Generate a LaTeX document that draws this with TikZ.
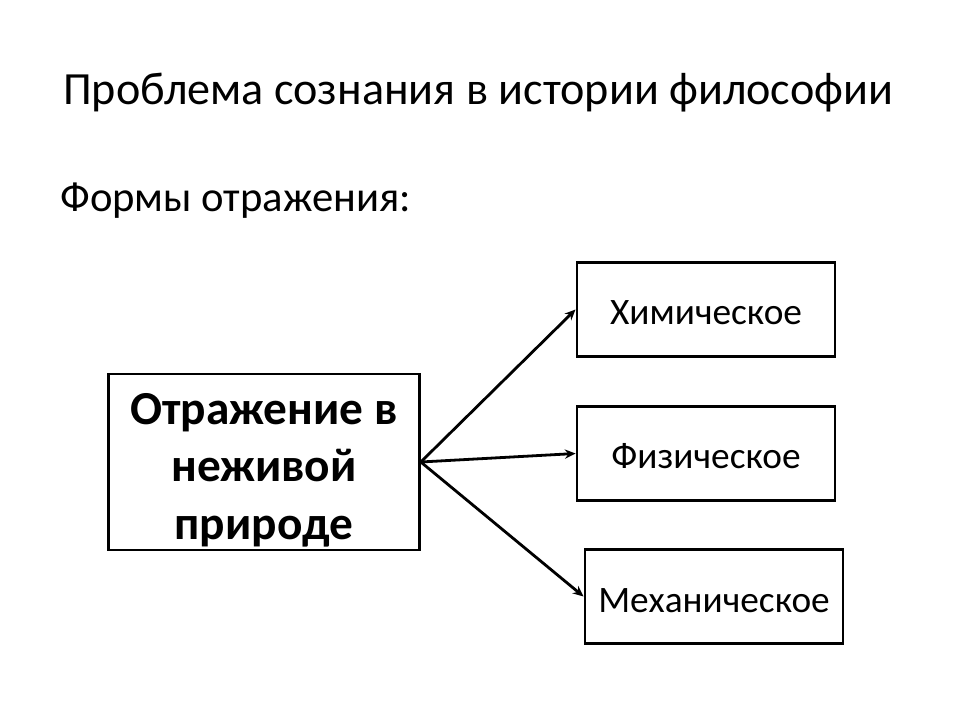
\documentclass[tikz,border=0pt]{standalone}
\usepackage{fontspec}
\setmainfont{Carlito}
\usetikzlibrary{arrows.meta}
\begin{document}
\begin{tikzpicture}[x=0.75pt,y=-0.75pt,
  box/.style={draw=black,line width=2.2pt,inner sep=0pt},
  smallbox/.style={box,minimum width=193.5pt,minimum height=71pt},
  smalltext/.style={inner sep=0pt,anchor=base,font=\fontsize{28}{32}\selectfont},
  conn/.style={line width=2.1pt,-{Stealth[length=8pt,width=7pt]}}]
\useasboundingbox (0,0) rectangle (960,720);
\node[anchor=base west,inner sep=0pt,font=\fontsize{34.6}{40}\selectfont] (title) at (63,105) {Проблема сознания в истории философии};
\node[anchor=base west,inner sep=0pt,font=\fontsize{32}{38}\selectfont] (sub) at (60,212) {Формы отражения:};
\node[box,minimum width=233pt,minimum height=132pt] (L) at (264,462) {};
\node[inner sep=0pt,align=center,font=\fontsize{35.5}{43}\bfseries\selectfont] (Ltext) at (264,470) {Отражение в\\неживой\\природе};
\node[smallbox] (A) at (706,309.5) {};
\node[smallbox] (B) at (706,453.5) {};
\node[smallbox] (C) at (714,596.5) {};
\node[smalltext] (At) at (706,325) {Химическое};
\node[smalltext] (Bt) at (706,468) {Физическое};
\node[smalltext] (Ct) at (714,612) {Механическое};
\draw[conn] (L.east) -- (A.west);
\draw[conn] (L.east) -- (B.west);
\draw[conn] (L.east) -- (C.west);
\end{tikzpicture}
\end{document}
